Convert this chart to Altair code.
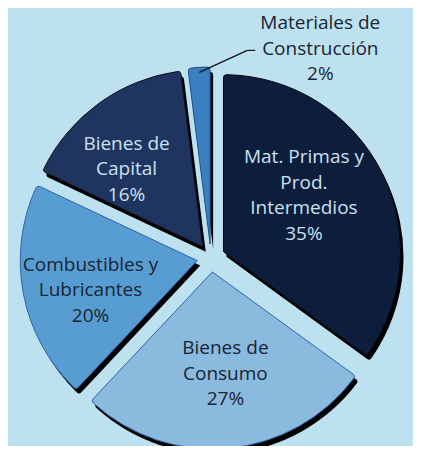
import altair as alt
import pandas as pd

categories = ["Mat. Primas y Prod. Intermedios", "Bienes de Consumo",
              "Combustibles y Lubricantes", "Bienes de Capital",
              "Materiales de Construcción"]
label_lines = ["Mat. Primas y\nProd.\nIntermedios", "Bienes de\nConsumo",
               "Combustibles y\nLubricantes", "Bienes de\nCapital",
               "Materiales de\nConstrucción"]
values = [35, 27, 20, 16, 2]
fill_colors = ["#0d1e3c", "#8abade", "#589dd2", "#1f3560", "#3a80c0"]
stroke_colors = ["#05070d", "#2f62aa", "#2f62aa", "#0a0f1c", "#1d4f86"]
text_colors = ["#c8e2f2", "#1a2533", "#1a2533", "#c8e2f2", "#1a2533"]

df = pd.DataFrame({
    "order": list(range(len(categories))),
    "category": categories,
    "value": values,
    "text": [l + "\n" + f"{v}%" for l, v in zip(label_lines, values)],
})

W, H = 405, 438
CX, CY, R, EXPLODE = 203, 250, 177, 14
LR, LANG = 104, -0.1          # label radius and angular shift (radians)
FONT = "Open Sans"
FS, LH = 19, 25.5

base = (
    alt.Chart(df)
    .transform_joinaggregate(total="sum(value)")
    .transform_window(cum="sum(value)", sort=[alt.SortField("order")])
    .transform_calculate(start="2*PI*(datum.cum - datum.value)/datum.total")
    .transform_calculate(end="2*PI*datum.cum/datum.total")
    .transform_calculate(mid="(datum.start + datum.end)/2")
    .transform_calculate(cx=f"{CX} + {EXPLODE}*sin(datum.mid)")
    .transform_calculate(cy=f"{CY} - {EXPLODE}*cos(datum.mid)")
    .transform_calculate(nl="length(split(datum.text, '\\n'))")
)

xenc = alt.X("cx:Q", scale=None, axis=None)
yenc = alt.Y("cy:Q", scale=None, axis=None)
theta = alt.Theta("start:Q", scale=None, stack=None)

shadow = base.mark_arc(radius=R, cornerRadius=3, color="#000000",
                       xOffset=3, yOffset=5).encode(
    x=xenc, y=yenc, theta=theta, theta2="end:Q")

slices = base.mark_arc(radius=R, cornerRadius=3, strokeWidth=1).encode(
    x=xenc, y=yenc, theta=theta, theta2="end:Q",
    fill=alt.Fill("category:N", scale=alt.Scale(domain=categories, range=fill_colors),
                  legend=None),
    stroke=alt.Stroke("category:N", scale=alt.Scale(domain=categories, range=stroke_colors),
                      legend=None),
)

inside = (
    base.transform_filter("datum.value >= 5")
    .transform_calculate(lx=f"datum.cx + {LR}*sin(datum.mid + {LANG})")
    .transform_calculate(ly=f"datum.cy - {LR}*cos(datum.mid + {LANG}) - (datum.nl - 1)*{LH}/2")
    .mark_text(font=FONT, fontSize=FS, lineBreak="\n", lineHeight=LH,
               align="center", baseline="middle", dx=-7, dy=0)
    .encode(
        x=alt.X("lx:Q", scale=None, axis=None),
        y=alt.Y("ly:Q", scale=None, axis=None),
        text="text:N",
        color=alt.Color("category:N", scale=alt.Scale(domain=categories, range=text_colors),
                        legend=None),
    )
)

outside_base = (
    base.transform_filter("datum.value < 5")
    .transform_calculate(px=f"datum.cx + {R - 5}*sin(datum.mid)")
    .transform_calculate(py=f"datum.cy - {R - 5}*cos(datum.mid)")
    .transform_calculate(qx="datum.px + 48", qy="datum.py - 22")
    .transform_calculate(rx="datum.qx + 8", tx="datum.qx + 73", ty="datum.qy - 27")
)

leader1 = outside_base.mark_rule(color="#111111", strokeWidth=1.2).encode(
    x=alt.X("px:Q", scale=None, axis=None), y=alt.Y("py:Q", scale=None, axis=None),
    x2="qx:Q", y2="qy:Q")
leader2 = outside_base.mark_rule(color="#111111", strokeWidth=1.2).encode(
    x=alt.X("qx:Q", scale=None, axis=None), y=alt.Y("qy:Q", scale=None, axis=None),
    x2="rx:Q", y2="qy:Q")

outside = outside_base.mark_text(font=FONT, fontSize=FS, lineBreak="\n", lineHeight=LH,
                                 align="center", baseline="middle", color="#1a2533").encode(
    x=alt.X("tx:Q", scale=None, axis=None), y=alt.Y("ty:Q", scale=None, axis=None),
    text="text:N")

chart = (
    alt.layer(shadow, slices, inside, leader1, leader2, outside)
    .resolve_scale(color="independent", fill="independent", stroke="independent")
    .properties(width=W, height=H, padding=0, background="#bee1f0",
                autosize=alt.AutoSizeParams(type="none"))
    .configure_view(stroke=None)
)

chart.save("out.html", embed_options={"renderer": "svg", "actions": False})
